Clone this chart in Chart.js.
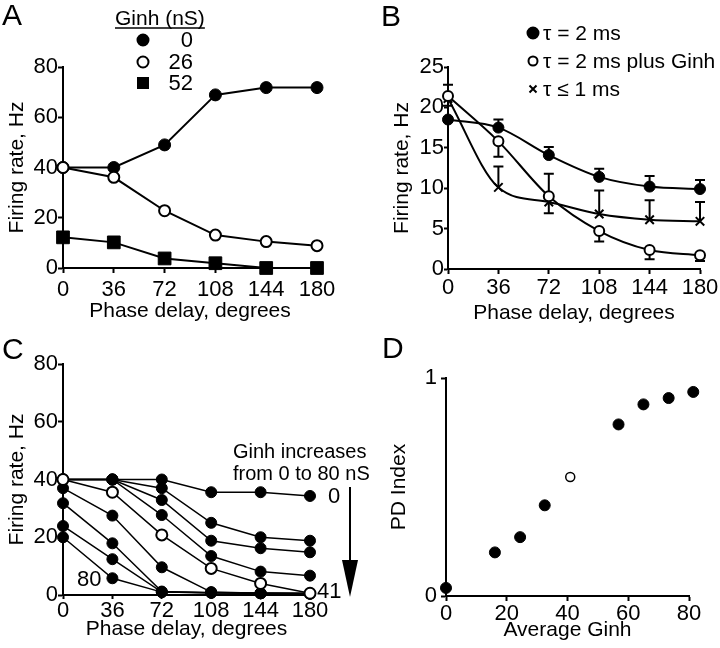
<!DOCTYPE html>
<html>
<head>
<meta charset="utf-8">
<script src="https://cdn.jsdelivr.net/npm/chart.js@4.4.1/dist/chart.umd.min.js"></script>
<style>
  html, body { margin: 0; padding: 0; background: #fff; }
  #figure { position: relative; width: 720px; height: 648px; background: #fff; overflow: hidden; }
  #figure canvas { position: absolute; }
</style>
</head>
<body>
<div id="figure">
  <canvas id="chart-a" width="360" height="324" style="left:0;top:0"></canvas>
  <canvas id="chart-b" width="360" height="324" style="left:360px;top:0"></canvas>
  <canvas id="chart-c" width="380" height="324" style="left:0;top:324px"></canvas>
  <canvas id="chart-d" width="360" height="324" style="left:360px;top:324px"></canvas>
</div>
<script>
// ── Data ─────────────────────────────────────────────────────────────────────

const phaseDelays = [0, 36, 72, 108, 144, 180];
const phaseTicks = [0, 36, 72, 108, 144, 180];

// A: firing rate vs phase delay, three Ginh levels
const aGinh0 = [40, 40, 49, 68.9, 71.8, 71.8];
const aGinh26 = [40, 36.1, 22.8, 13.1, 10.5, 8.9];
const aGinh52 = [12.2, 10.2, 3.8, 1.9, 0, 0];
const aYTicks = [0, 20, 40, 60, 80];
const aLegendTitle = 'Ginh (nS)';
const aLegendLabels = ['0', '26', '52'];

// B: mean +/- error, one-sided bars as in the original
const bSlow = [18.5, 17.5, 14.1, 11.4, 10.2, 9.9];
const bSlowErrTop = [null, 18.5, 15.1, 12.4, 11.5, 11.0];
const bSlowGinh = [21.4, 15.8, 9.0, 4.7, 2.35, 1.7];
const bSlowGinhErrLow = [20.2, 13.9, 6.9, 3.4, 1.2, 1.0];
const bFast = [21.1, 10.1, 8.3, 6.8, 6.1, 5.9];
const bFastErrTop = [22.8, 12.7, 11.8, 9.7, 8.5, 8.3];
const bYTicks = [0, 5, 10, 15, 20, 25];
const bLegendLabels = ['τ = 2 ms', 'τ = 2 ms plus Ginh', 'τ ≤ 1 ms'];

// C: Ginh stepped from 0 to 80 nS (41 nS = open circles)
const cGinh0 = [40, 40, 40, 35.6, 35.6, 34.3];
const cGinh16 = [40, 40, 37, 25, 20, 18.8];
const cGinh24 = [40, 40, 32.9, 18.8, 16.2, 14.8];
const cGinh32 = [40, 40, 27.7, 13.5, 8.1, 6.7];
const cGinh41 = [40, 35.6, 20.8, 9.2, 4.0, 0.6];
const cGinh57 = [37, 27.5, 9.6, 1.0, 0.6, 0.5];
const cGinh65 = [31.8, 17.9, 1.2, 0.8, 0.6, 0.5];
const cGinh73 = [23.9, 12.4, 1.0, 0.8, 0.6, 0.5];
const cGinh81 = [20, 5.8, 1.0, 0.8, 0.6, 0.5];
const cYTicks = [0, 20, 40, 60, 80];
const cNote = ['Ginh increases', 'from 0 to 80 nS'];
const cEndLabels = ['0', '41', '80'];

// D: PD index vs average Ginh
const dAvgGinh = [0, 16.1, 24.4, 32.5, 40.9, 56.8, 65, 73.3, 81.4];
const dPdIndex = [0.037, 0.2, 0.27, 0.416, 0.546, 0.787, 0.879, 0.908, 0.936];
const dOpenIndex = 4;
const dXTicks = [0, 20, 40, 60, 80];
const dYTicks = [0, 1];

// ── Helpers ──────────────────────────────────────────────────────────────────

const FONT = "'Liberation Sans', Arial, Helvetica, sans-serif";
Chart.defaults.font.family = FONT;
Chart.defaults.color = '#000';

const MARKERS = {
  filled: { style: 'circle', radius: 6, border: 1, fill: '#000' },
  open: { style: 'circle', radius: 5.5, border: 2, fill: '#fff' },
  square: { style: 'rect', radius: 9, border: 1, fill: '#000' },
  cross: { style: 'crossRot', radius: 6, border: 2, fill: '#000' }
};

function toPoints(xs, ys) {
  return ys.map((y, i) => ({ x: xs[i], y }));
}

function series(xs, ys, marker, extra) {
  const m = MARKERS[marker];
  return Object.assign({
    data: toPoints(xs, ys),
    borderColor: '#000',
    borderWidth: 2,
    pointStyle: m.style,
    pointRadius: m.radius,
    pointBorderWidth: m.border,
    pointBackgroundColor: m.fill,
    pointBorderColor: '#000',
    tension: 0,
    fill: false,
    clip: false
  }, extra);
}

function axis({ min, max, ticks, title, size, horizontal, tickLength = 5, tickPadding = 0, titlePadding = 0 }) {
  return {
    type: 'linear',
    min, max,
    border: { display: true, color: '#000', width: 2 },
    grid: { display: true, drawOnChartArea: false, drawTicks: true, tickLength, tickColor: '#000', tickWidth: 2 },
    ticks: { color: '#000', font: { size: 22 }, padding: tickPadding, autoSkip: false, maxRotation: 0, minRotation: 0 },
    title: {
      display: true, text: title, color: '#000', font: { size: 21 },
      padding: horizontal ? { top: 0, bottom: titlePadding } : { top: titlePadding, bottom: 0 }
    },
    afterBuildTicks: s => { s.ticks = ticks.map(v => ({ value: v })); },
    afterFit: s => { if (horizontal) s.height = size; else s.width = size; }
  };
}

function baseOptions(padding, x, y) {
  return {
    responsive: false,
    animation: false,
    devicePixelRatio: 1,
    layout: { padding },
    plugins: { legend: { display: false }, tooltip: { enabled: false } },
    scales: { x, y }
  };
}

function drawMarker(ctx, marker, x, y, r) {
  ctx.save();
  ctx.strokeStyle = '#000';
  ctx.lineWidth = 2;
  if (marker === 'filled' || marker === 'open') {
    ctx.beginPath();
    ctx.arc(x, y, r, 0, Math.PI * 2);
    ctx.fillStyle = marker === 'filled' ? '#000' : '#fff';
    ctx.fill();
    ctx.stroke();
  } else if (marker === 'square') {
    ctx.fillStyle = '#000';
    ctx.fillRect(x - r, y - r, 2 * r, 2 * r);
  } else {
    ctx.beginPath();
    ctx.moveTo(x - r, y - r); ctx.lineTo(x + r, y + r);
    ctx.moveTo(x + r, y - r); ctx.lineTo(x - r, y + r);
    ctx.stroke();
  }
  ctx.restore();
}

function text(ctx, str, x, y, size, align, baseline) {
  ctx.save();
  ctx.fillStyle = '#000';
  ctx.font = `${size}px ${FONT}`;
  ctx.textAlign = align || 'left';
  ctx.textBaseline = baseline || 'alphabetic';
  ctx.fillText(str, x, y);
  ctx.restore();
}

function panelLetter(letter, x, y) {
  return {
    id: 'letter' + letter,
    afterDraw(chart) { text(chart.ctx, letter, x, y, 30); }
  };
}

// ── Panel A ──────────────────────────────────────────────────────────────────

const legendA = {
  id: 'legendA',
  afterDraw(chart) {
    const ctx = chart.ctx;
    text(ctx, aLegendTitle, 115, 25, 21);
    ctx.save();
    ctx.font = `21px ${FONT}`;
    const w = ctx.measureText(aLegendTitle).width;
    ctx.strokeStyle = '#000';
    ctx.lineWidth = 1.5;
    ctx.beginPath();
    ctx.moveTo(115, 28); ctx.lineTo(115 + w, 28);
    ctx.stroke();
    ctx.restore();
    const markers = ['filled', 'open', 'square'];
    const rows = [40, 62, 83];
    markers.forEach((m, i) => {
      drawMarker(ctx, m, 143, rows[i], m === 'square' ? 6 : 5.5);
      text(ctx, aLegendLabels[i], 193, rows[i] + 1, 22, 'right', 'middle');
    });
  }
};

new Chart(document.getElementById('chart-a'), {
  type: 'line',
  data: {
    datasets: [
      series(phaseDelays, aGinh26, 'open', { order: 0 }),
      series(phaseDelays, aGinh0, 'filled', { order: 1 }),
      series(phaseDelays, aGinh52, 'square', { order: 2 })
    ]
  },
  options: baseOptions(
    { left: 0, top: 67, right: 43, bottom: 0 },
    axis({ min: 0, max: 180, ticks: phaseTicks, title: 'Phase delay, degrees', size: 56, horizontal: true, tickPadding: 4, titlePadding: 0 }),
    axis({ min: 0, max: 80, ticks: aYTicks, title: 'Firing rate, Hz', size: 63, titlePadding: 5 })
  ),
  plugins: [panelLetter('A', 2, 25), legendA]
});

// ── Panel B ──────────────────────────────────────────────────────────────────

const errorBarsB = {
  id: 'errorBarsB',
  beforeDatasetsDraw(chart) {
    const { ctx, scales: { x, y } } = chart;
    const bars = [[bSlow, bSlowErrTop], [bSlowGinh, bSlowGinhErrLow], [bFast, bFastErrTop]];
    ctx.save();
    ctx.strokeStyle = '#000';
    ctx.lineWidth = 2;
    bars.forEach(([vals, ends]) => {
      ends.forEach((end, i) => {
        if (end === null) return;
        const px = x.getPixelForValue(phaseDelays[i]);
        const y1 = y.getPixelForValue(vals[i]);
        const y2 = y.getPixelForValue(end);
        ctx.beginPath();
        ctx.moveTo(px, y1); ctx.lineTo(px, y2);
        ctx.moveTo(px - 5, y2); ctx.lineTo(px + 5, y2);
        ctx.stroke();
      });
    });
    ctx.restore();
  }
};

const legendB = {
  id: 'legendB',
  afterDraw(chart) {
    const ctx = chart.ctx;
    const markers = ['filled', 'open', 'cross'];
    const rows = [33, 61, 89];
    markers.forEach((m, i) => {
      drawMarker(ctx, m, 173, rows[i], m === 'cross' ? 3.5 : (m === 'open' ? 4.5 : 5.5));
      text(ctx, bLegendLabels[i], 183, rows[i] + 1, 21, 'left', 'middle');
    });
  }
};

new Chart(document.getElementById('chart-b'), {
  type: 'line',
  data: {
    datasets: [
      series(phaseDelays, bSlow, 'filled', { cubicInterpolationMode: 'monotone', pointRadius: 5.5 }),
      series(phaseDelays, bSlowGinh, 'open', { cubicInterpolationMode: 'monotone', pointRadius: 5 }),
      series(phaseDelays, bFast, 'cross', { cubicInterpolationMode: 'monotone' })
    ]
  },
  options: baseOptions(
    { left: 0, top: 67, right: 20, bottom: 0 },
    axis({ min: 0, max: 180, ticks: phaseTicks, title: 'Phase delay, degrees', size: 55, horizontal: true, tickPadding: 1, titlePadding: -2 }),
    axis({ min: 0, max: 25, ticks: bYTicks, title: 'Firing rate, Hz', size: 88, tickLength: 4, titlePadding: 30 })
  ),
  plugins: [panelLetter('B', 21, 26), errorBarsB, legendB]
});

// ── Panel C ──────────────────────────────────────────────────────────────────

const notesC = {
  id: 'notesC',
  afterDraw(chart) {
    const { ctx, scales: { x, y } } = chart;
    text(ctx, cNote[0], 233, 134, 20);
    text(ctx, cNote[1], 233, 156, 20);
    // arrow: Ginh increasing downwards
    ctx.save();
    ctx.strokeStyle = '#000';
    ctx.fillStyle = '#000';
    ctx.lineWidth = 2;
    ctx.beginPath();
    ctx.moveTo(350, 163); ctx.lineTo(350, 240);
    ctx.stroke();
    ctx.beginPath();
    ctx.moveTo(342, 236); ctx.lineTo(358, 236); ctx.lineTo(350, 273);
    ctx.closePath();
    ctx.fill();
    ctx.restore();
    const xEnd = x.getPixelForValue(180);
    text(ctx, cEndLabels[0], xEnd + 18, y.getPixelForValue(cGinh0[5]) + 1, 22, 'left', 'middle');
    text(ctx, cEndLabels[1], xEnd + 7, y.getPixelForValue(cGinh41[5]) - 1, 22, 'left', 'middle');
    text(ctx, cEndLabels[2], x.getPixelForValue(36) - 11, y.getPixelForValue(cGinh81[1]) + 2, 22, 'right', 'middle');
  }
};

const cLines = [cGinh0, cGinh16, cGinh24, cGinh32, cGinh41, cGinh57, cGinh65, cGinh73, cGinh81];

new Chart(document.getElementById('chart-c'), {
  type: 'line',
  data: {
    datasets: cLines.map(vals => series(phaseDelays, vals, vals === cGinh41 ? 'open' : 'filled', {
      borderWidth: 1.5,
      pointRadius: 5.5,
      order: vals === cGinh41 ? -1 : 0
    }))
  },
  options: baseOptions(
    { left: 0, top: 40, right: 70, bottom: 0 },
    axis({ min: 0, max: 180, ticks: phaseTicks, title: 'Phase delay, degrees', size: 53, horizontal: true, tickLength: 4, tickPadding: -1, titlePadding: 6 }),
    axis({ min: 0, max: 80, ticks: cYTicks, title: 'Firing rate, Hz', size: 63, titlePadding: 5 })
  ),
  plugins: [panelLetter('C', 2, 35), notesC]
});

// ── Panel D ──────────────────────────────────────────────────────────────────

new Chart(document.getElementById('chart-d'), {
  type: 'line',
  data: {
    datasets: [{
      data: toPoints(dAvgGinh, dPdIndex),
      showLine: false,
      clip: false,
      pointStyle: 'circle',
      pointRadius: dPdIndex.map((_, i) => i === dOpenIndex ? 4.5 : 5.5),
      pointBorderWidth: dPdIndex.map((_, i) => i === dOpenIndex ? 1.5 : 1),
      pointBackgroundColor: dPdIndex.map((_, i) => i === dOpenIndex ? '#fff' : '#000'),
      pointBorderColor: '#000'
    }]
  },
  options: baseOptions(
    { left: 0, top: 54, right: 31, bottom: 0 },
    axis({ min: 0, max: 80, ticks: dXTicks, title: 'Average Ginh', size: 52, horizontal: true, tickPadding: 0, titlePadding: 5 }),
    axis({ min: 0, max: 1, ticks: dYTicks, title: 'PD Index', size: 86, tickPadding: 4, titlePadding: 27 })
  ),
  plugins: [panelLetter('D', 22, 34)]
});
</script>
</body>
</html>
